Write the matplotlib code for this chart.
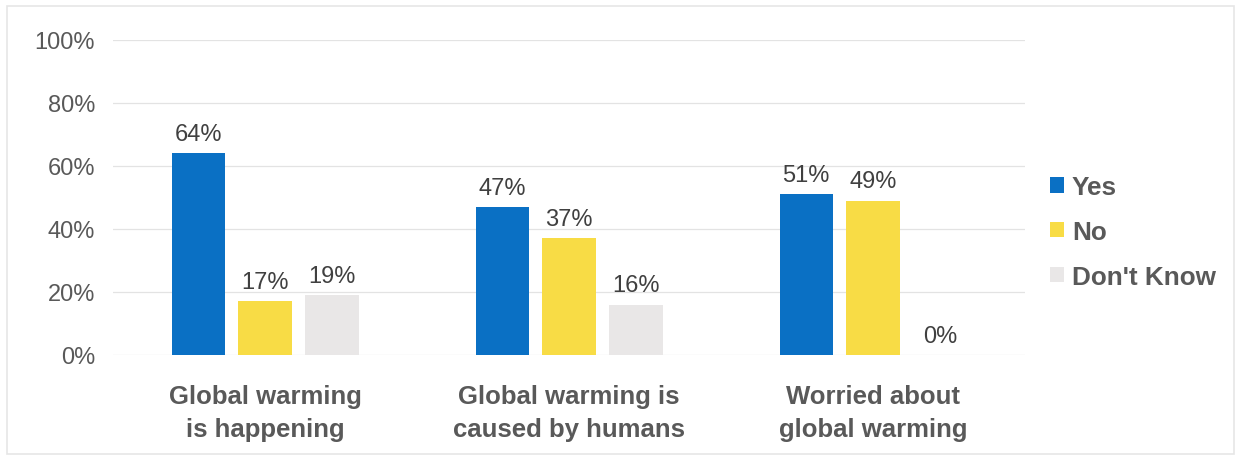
import numpy as np
import matplotlib as mpl

mpl.use("Agg")

import matplotlib.pyplot as plt
import matplotlib.ticker as ticker
from matplotlib.patches import Rectangle

# 数据
categories = ["Global warming\nis happening",
              "Global warming is\ncaused by humans",
              "Worried about\nglobal warming"]
series_names = ["Yes", "No", "Don't Know"]
yes_vals = [64, 47, 51]
no_vals = [17, 37, 49]
dk_vals = [19, 16, 0]

colors = ["#0a70c4", "#f8dc45", "#e9e7e7"]
text_gray = "#595959"

plt.rcParams["font.family"] = ["Liberation Sans", "DejaVu Sans"]

fig = plt.figure(figsize=(12.41, 4.6), dpi=100)
ax = fig.add_axes([0.0911, 0.2261, 0.7349, 0.6848])

x = np.arange(len(categories))
width = 0.175
offset = 0.22

for i, (name, vals) in enumerate(zip(series_names, [yes_vals, no_vals, dk_vals])):
    pos = x + (i - 1) * offset
    ax.bar(pos, vals, width=width, color=colors[i], label=name, zorder=3)
    for px, v in zip(pos, vals):
        ax.annotate(f"{v}%", (px, v), xytext=(0, 6), textcoords="offset points",
                    ha="center", va="bottom", fontsize=17, color="#404040", zorder=4)

ax.set_xlim(-0.5, 2.5)
ax.set_ylim(0, 100)
ax.yaxis.set_major_locator(ticker.MultipleLocator(20))
ax.yaxis.set_major_formatter(ticker.FuncFormatter(lambda v, _: f"{v:.0f}%"))
ax.tick_params(axis="y", length=0, pad=13, labelsize=17, labelcolor=text_gray)
ax.grid(axis="y", color="#e3e3e3", lw=0.9, zorder=0)

ax.set_xticks(x)
ax.set_xticklabels(categories, fontsize=18.5, fontweight="bold", color=text_gray,
                   linespacing=1.45)
ax.tick_params(axis="x", length=0, pad=21)

for s in ax.spines.values():
    s.set_visible(False)

leg = ax.legend(loc="center left", bbox_to_anchor=(1.002, 0.39), frameon=False,
                fontsize=18.8, handlelength=0.52, handleheight=0.52, handletextpad=0.3,
                labelspacing=0.8)
for t in leg.get_texts():
    t.set_color(text_gray)
    t.set_fontweight("bold")

# 外框
fig.patches.append(Rectangle((0.006, 0.011), 0.988, 0.974, transform=fig.transFigure,
                             fill=False, edgecolor="#e6e6e6", lw=1.2))

fig.savefig("out.png", dpi=100)
